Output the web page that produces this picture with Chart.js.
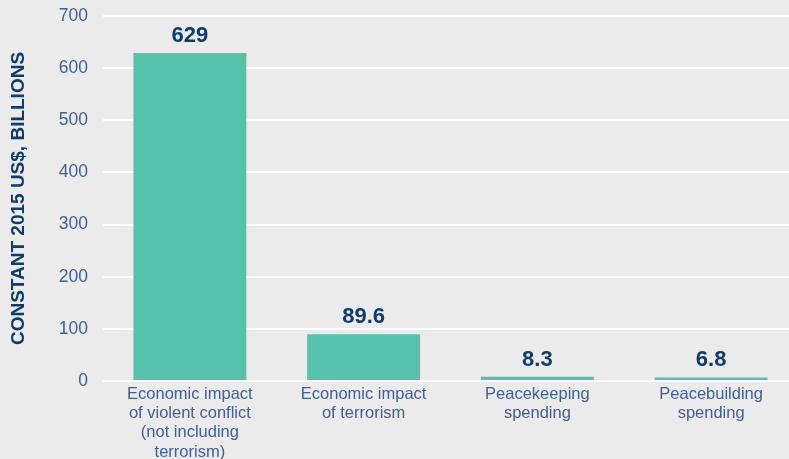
<!DOCTYPE html>
<html>
<head>
<meta charset="utf-8">
<script src="https://cdn.jsdelivr.net/npm/chart.js@4"></script>
<style>
  html, body { margin: 0; padding: 0; background: #ebebeb; overflow: hidden; }
  #wrap { width: 789px; height: 459px; overflow: hidden; }
</style>
</head>
<body>
<div id="wrap"><canvas id="costChart" width="798" height="459"></canvas></div>
<script>
const categories = [
  ['Economic impact', 'of violent conflict', '(not including', 'terrorism)'],
  ['Economic impact', 'of terrorism'],
  ['Peacekeeping', 'spending'],
  ['Peacebuilding', 'spending']
];
const costValues = [629, 89.6, 8.3, 6.8];
const valueLabels = ['629', '89.6', '8.3', '6.8'];
const yTicks = [0, 100, 200, 300, 400, 500, 600, 700];

const navy = '#0e3b70';
const tickBlue = '#40609a';

// writes the value above each bar
const barValues = {
  id: 'barValues',
  afterDatasetsDraw(chart) {
    const ctx = chart.ctx;
    const meta = chart.getDatasetMeta(0);
    ctx.save();
    ctx.font = 'bold 22px "Liberation Sans", Arial, sans-serif';
    ctx.fillStyle = navy;
    ctx.textAlign = 'center';
    ctx.textBaseline = 'alphabetic';
    meta.data.forEach((bar, i) => {
      ctx.fillText(valueLabels[i], bar.x, bar.y - 11);
    });
    ctx.restore();
  }
};

new Chart(document.getElementById('costChart'), {
  type: 'bar',
  data: {
    labels: categories,
    datasets: [{
      data: costValues,
      backgroundColor: '#55c3aa',
      borderWidth: 0,
      barPercentage: 0.65,
      categoryPercentage: 1
    }]
  },
  options: {
    responsive: false,
    animation: false,
    layout: { padding: { top: 16, right: 0, bottom: 0, left: 0 } },
    plugins: {
      legend: { display: false },
      tooltip: { enabled: false }
    },
    scales: {
      x: {
        grid: { display: false, drawTicks: false },
        border: { display: false },
        ticks: {
          color: tickBlue,
          font: { family: '"Liberation Sans", Arial, sans-serif', size: 16.5, lineHeight: 1.16 },
          padding: 4,
          maxRotation: 0,
          autoSkip: false
        },
        afterFit: (s) => { s.height = 78; s.paddingLeft = 0; s.paddingRight = 0; }
      },
      y: {
        min: 0,
        max: 700,
        afterBuildTicks: (s) => { s.ticks = yTicks.map(v => ({ value: v })); },
        grid: { color: '#ffffff', lineWidth: 2, drawTicks: false },
        border: { display: false },
        ticks: {
          color: tickBlue,
          font: { family: '"Liberation Sans", Arial, sans-serif', size: 17.5 },
          padding: 15
        },
        title: {
          display: true,
          text: 'CONSTANT 2015 US$, BILLIONS',
          color: navy,
          font: { family: '"Liberation Sans", Arial, sans-serif', size: 19, weight: 'bold' },
          padding: { top: 7, bottom: 0 }
        },
        afterFit: (s) => { s.width = 103; s.paddingTop = 0; s.paddingBottom = 0; }
      }
    }
  },
  plugins: [barValues]
});
</script>
</body>
</html>
